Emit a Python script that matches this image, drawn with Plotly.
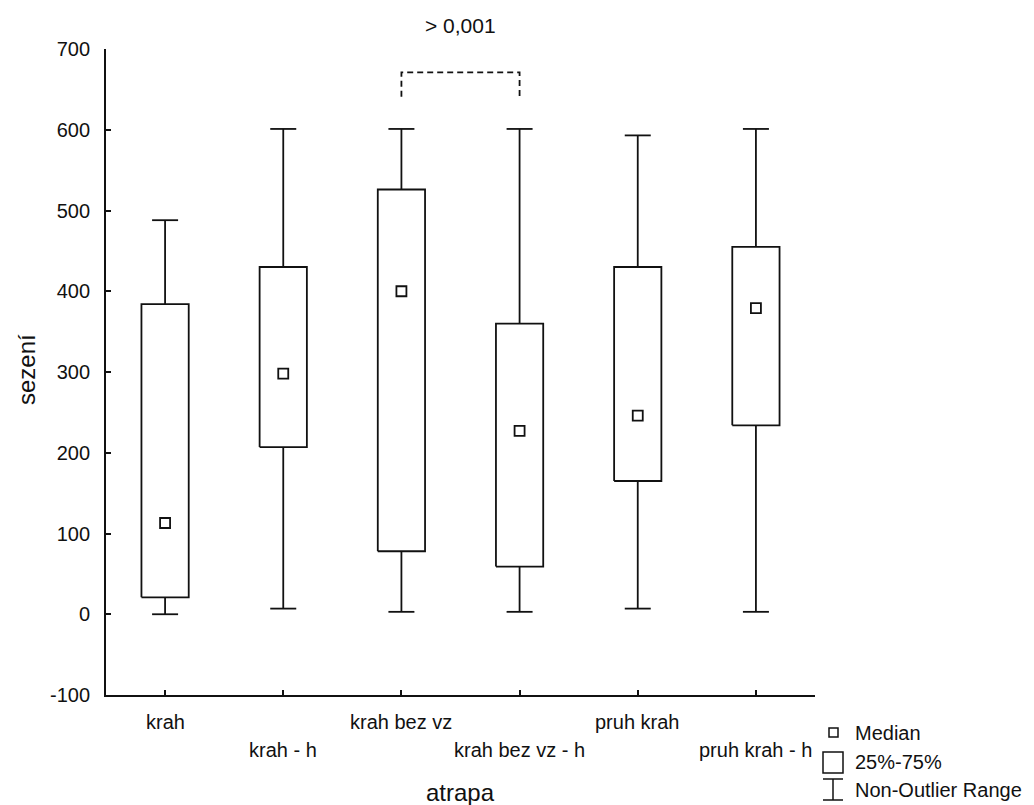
import plotly.graph_objects as go

categories = ["krah", "krah - h", "krah bez vz", "krah bez vz - h", "pruh krah", "pruh krah - h"]
mins    = [0,   7,   3,   3,   7,   3]
q1s     = [21,  207, 78,  59,  165, 234]
medians = [113, 298, 400, 227, 246, 379]
q3s     = [384, 430, 526, 360, 430, 455]
maxs    = [488, 601, 601, 601, 593, 601]

y_ticks = [-100, 0, 100, 200, 300, 400, 500, 600, 700]
y_tick_labels = [str(v) for v in y_ticks]
y_range = [-100, 700]
sig_pair = [2, 3]
sig_y = [641, 671]
sig_text = "> 0,001"
sig_text_y = 729
legend_labels = ["Median", "25%-75%", "Non-Outlier Range"]

FONT = "Liberation Sans, Arial, sans-serif"
INK = "#111111"
BOX_HALF = 0.2
CAP_HALF = 0.11
LINE = dict(color=INK, width=1.8)

fig = go.Figure()

# boxes (25%-75%)
bx, by = [], []
for i in range(len(categories)):
    bx += [i - BOX_HALF, i + BOX_HALF, i + BOX_HALF, i - BOX_HALF, i - BOX_HALF, None]
    by += [q1s[i], q1s[i], q3s[i], q3s[i], q1s[i], None]
fig.add_trace(go.Scatter(x=bx, y=by, mode="lines", line=LINE, hoverinfo="skip", showlegend=False))

# whiskers (non-outlier range)
wx, wy = [], []
for i in range(len(categories)):
    wx += [i, i, None, i - CAP_HALF, i + CAP_HALF, None]
    wy += [q3s[i], maxs[i], None, maxs[i], maxs[i], None]
    wx += [i, i, None, i - CAP_HALF, i + CAP_HALF, None]
    wy += [q1s[i], mins[i], None, mins[i], mins[i], None]
fig.add_trace(go.Scatter(x=wx, y=wy, mode="lines", line=LINE, hoverinfo="skip", showlegend=False))

# medians
fig.add_trace(go.Scatter(x=list(range(len(categories))), y=medians, mode="markers",
                         marker=dict(symbol="square-open", size=10, color=INK, line=dict(width=1.8)),
                         showlegend=False))

# significance bracket
fig.add_trace(go.Scatter(x=[sig_pair[0], sig_pair[0], sig_pair[1], sig_pair[1]],
                         y=[sig_y[0], sig_y[1], sig_y[1], sig_y[0]],
                         mode="lines", line=dict(color=INK, width=1.8, dash="6px,4px"),
                         hoverinfo="skip", showlegend=False))

annotations = [
    dict(x=(sig_pair[0] + sig_pair[1]) / 2,
         y=(sig_text_y - y_range[0]) / (y_range[1] - y_range[0]),
         xref="x", yref="paper", text=sig_text, yanchor="middle",
         showarrow=False, font=dict(family=FONT, size=21, color=INK)),
]

# x tick labels in two alternating rows
for i, c in enumerate(categories):
    annotations.append(dict(x=i, y=0, xref="x", yref="paper", text=c, showarrow=False,
                            yanchor="middle", yshift=-27 if i % 2 == 0 else -55,
                            font=dict(family=FONT, size=20, color=INK)))

# axis titles
annotations.append(dict(x=0.5, y=0, xref="paper", yref="paper", text="atrapa", showarrow=False,
                        yanchor="middle", yshift=-97, font=dict(family=FONT, size=24, color=INK)))
annotations.append(dict(x=0, y=0.503, xref="paper", yref="paper", text="sezení", showarrow=False,
                        textangle=-90, xanchor="center", xshift=-80,
                        font=dict(family=FONT, size=24, color=INK)))

# hand-drawn legend
def px(xp):
    return (xp - 106) / 709.0
def py(yp):
    return (695 - yp) / 646.0

LW = dict(color=INK, width=1.5)
shapes = [
    dict(type="rect", xref="paper", yref="paper", x0=px(829), x1=px(838), y0=py(737), y1=py(728), line=LW),
    dict(type="rect", xref="paper", yref="paper", x0=px(823), x1=px(843), y0=py(773), y1=py(752), line=LW),
    dict(type="line", xref="paper", yref="paper", x0=px(833), x1=px(833), y0=py(800), y1=py(779), line=LW),
    dict(type="line", xref="paper", yref="paper", x0=px(823), x1=px(843), y0=py(779), y1=py(779), line=LW),
    dict(type="line", xref="paper", yref="paper", x0=px(823), x1=px(843), y0=py(800), y1=py(800), line=LW),
]
for txt, yp in zip(legend_labels, [733, 762, 790]):
    annotations.append(dict(x=px(853), y=py(yp), xref="paper", yref="paper", text=txt, showarrow=False,
                            xanchor="left", yanchor="middle", font=dict(family=FONT, size=20, color=INK)))

fig.update_layout(
    width=1034, height=805,
    margin=dict(l=106, r=219, t=49, b=110),
    plot_bgcolor="white", paper_bgcolor="white",
    annotations=annotations, shapes=shapes,
    xaxis=dict(range=[-0.5, 5.5], tickvals=list(range(len(categories))), ticktext=[""] * len(categories),
               showgrid=False, zeroline=False, showline=True, linecolor=INK, linewidth=1.8,
               ticks="inside", ticklen=5, tickwidth=1.5, tickcolor=INK),
    yaxis=dict(range=y_range, tickvals=y_ticks, ticktext=y_tick_labels, showgrid=False, zeroline=False,
               showline=True, linecolor=INK, linewidth=1.8, ticks="inside", ticklen=5, tickwidth=1.5,
               tickcolor=INK, ticklabelstandoff=10,
               tickfont=dict(family=FONT, size=20, color=INK)),
)

fig.write_html("out.html", config={"displayModeBar": False},
               post_script="document.body.style.margin='0';document.body.style.overflow='hidden';")
